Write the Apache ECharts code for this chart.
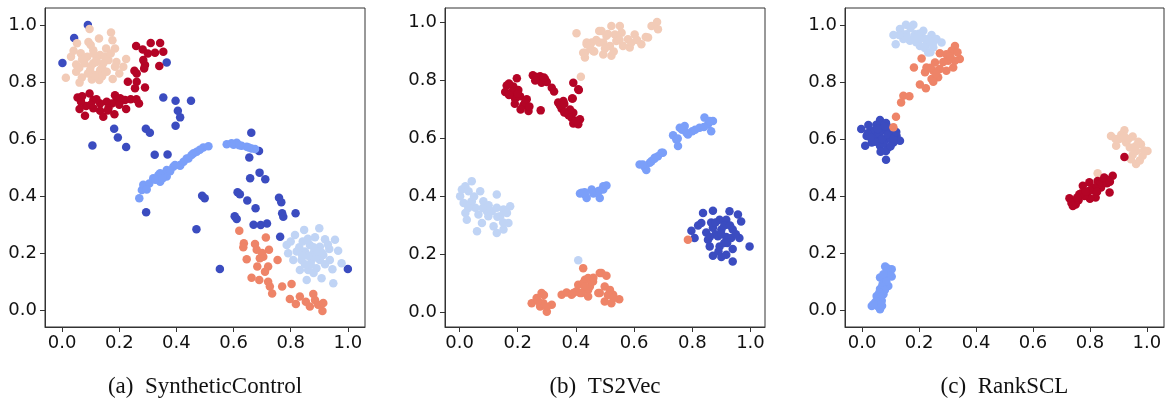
<!DOCTYPE html>
<html>
<head>
<meta charset="utf-8">
<script src="https://cdn.jsdelivr.net/npm/echarts@6/dist/echarts.min.js"></script>
<style>
html, body { margin: 0; padding: 0; background: #fff; }
#main { width: 1169px; height: 406px; }
</style>
</head>
<body>
<div id="main"></div>
<script>
// tick labels shared by all panels
var tickValues = [0, 0.2, 0.4, 0.6, 0.8, 1.0];
var captions = ['(a)  SyntheticControl', '(b)  TS2Vec', '(c)  RankSCL'];

// class colours (coolwarm)
var classColors = ['#3b4cc0', '#7b9ff9', '#c0d4f5', '#f2cbb7', '#ee8468', '#b40426'];

// ---- (a) SyntheticControl ----
var a0 = [[0.09,1.0],[0.042,0.955],[0.001,0.867],[0.366,0.869],[0.354,0.746],[0.397,0.734],[0.451,0.734],[0.405,0.699],
  [0.413,0.676],[0.397,0.647],[0.182,0.636],[0.195,0.605],[0.224,0.572],[0.106,0.577],[0.293,0.636],[0.307,0.622],
  [0.324,0.545],[0.369,0.546],[0.294,0.343],[0.470,0.283],[0.662,0.622],[0.689,0.558],[0.655,0.535],[0.691,0.482],
  [0.711,0.459],[0.658,0.462],[0.490,0.401],[0.499,0.392],[0.614,0.413],[0.622,0.406],[0.648,0.384],[0.759,0.394],
  [0.767,0.378],[0.677,0.357],[0.604,0.329],[0.611,0.319],[0.770,0.339],[0.774,0.327],[0.817,0.339],[0.670,0.299],
  [0.695,0.298],[0.717,0.303],[0.763,0.257],[0.552,0.144],[1.0,0.144]];
var a1 = [[0.270,0.392],[0.279,0.421],[0.284,0.439],[0.305,0.444],[0.296,0.423],[0.319,0.462],[0.337,0.474],[0.343,0.450],
  [0.360,0.480],[0.366,0.468],[0.389,0.503],[0.413,0.509],[0.436,0.532],[0.453,0.544],[0.471,0.555],[0.343,0.480],
  [0.366,0.491],[0.395,0.509],[0.413,0.506],[0.442,0.532],[0.494,0.570],[0.512,0.575],[0.576,0.582],[0.593,0.585],
  [0.611,0.587],[0.628,0.576],[0.646,0.573],[0.663,0.567],[0.675,0.565],[0.326,0.457],[0.352,0.462],[0.378,0.487],
  [0.425,0.520],[0.460,0.550],[0.482,0.562],[0.600,0.580],[0.620,0.578],[0.653,0.570]];
var a2 = [[0.847,0.281],[0.900,0.287],[0.815,0.263],[0.885,0.255],[0.920,0.248],[0.955,0.246],[0.786,0.228],[0.842,0.240],
  [0.867,0.228],[0.902,0.222],[0.935,0.214],[0.966,0.208],[0.791,0.199],[0.821,0.205],[0.850,0.205],[0.879,0.199],
  [0.914,0.193],[0.809,0.175],[0.838,0.175],[0.873,0.175],[0.902,0.175],[0.937,0.175],[0.978,0.164],[0.832,0.140],
  [0.861,0.140],[0.890,0.146],[0.946,0.143],[0.856,0.105],[0.908,0.111],[0.949,0.094],[0.860,0.190],[0.890,0.185],
  [0.870,0.160],[0.920,0.160],[0.850,0.160],[0.830,0.220],[0.895,0.205],[0.880,0.220],[0.860,0.250],[0.910,0.200],
  [0.840,0.190],[0.930,0.230],[0.880,0.130],[0.800,0.240]];
var a3 = [[0.096,0.986],[0.171,0.974],[0.052,0.936],[0.092,0.941],[0.129,0.953],[0.176,0.947],[0.185,0.918],[0.154,0.918],
  [0.109,0.912],[0.065,0.901],[0.031,0.889],[0.088,0.889],[0.133,0.895],[0.162,0.877],[0.224,0.881],[0.049,0.862],
  [0.078,0.866],[0.109,0.866],[0.144,0.866],[0.185,0.854],[0.214,0.854],[0.049,0.836],[0.098,0.842],[0.133,0.842],
  [0.156,0.836],[0.013,0.815],[0.069,0.816],[0.104,0.809],[0.130,0.807],[0.177,0.811],[0.061,0.798],[0.120,0.880],
  [0.100,0.855],[0.140,0.850],[0.115,0.825],[0.070,0.880],[0.110,0.900],[0.150,0.890],[0.190,0.870],[0.120,0.870],
  [0.090,0.830],[0.140,0.820],[0.060,0.850],[0.170,0.900],[0.200,0.830],[0.100,0.930],[0.040,0.910]];
var a4 = [[0.620,0.278],[0.713,0.254],[0.636,0.234],[0.634,0.220],[0.675,0.231],[0.681,0.211],[0.724,0.211],[0.704,0.187],
  [0.646,0.178],[0.692,0.181],[0.754,0.175],[0.683,0.152],[0.721,0.152],[0.710,0.134],[0.663,0.113],[0.690,0.105],
  [0.721,0.099],[0.727,0.082],[0.735,0.058],[0.770,0.082],[0.803,0.091],[0.797,0.038],[0.818,0.021],[0.832,0.047],
  [0.853,0.029],[0.879,0.056],[0.885,0.035],[0.867,0.012],[0.896,0.018],[0.911,-0.004],[0.914,0.024],[0.700,0.200]];
var a5 = [[0.259,0.927],[0.282,0.914],[0.310,0.937],[0.343,0.937],[0.354,0.906],[0.325,0.903],[0.284,0.877],[0.290,0.860],
  [0.340,0.856],[0.287,0.848],[0.253,0.840],[0.261,0.830],[0.230,0.801],[0.261,0.801],[0.255,0.778],[0.290,0.781],
  [0.269,0.725],[0.220,0.737],[0.224,0.705],[0.185,0.754],[0.191,0.737],[0.174,0.725],[0.156,0.731],[0.133,0.725],
  [0.133,0.699],[0.144,0.678],[0.183,0.687],[0.096,0.760],[0.109,0.737],[0.084,0.716],[0.109,0.708],[0.054,0.746],
  [0.066,0.731],[0.061,0.705],[0.080,0.682],[0.203,0.743],[0.162,0.708],[0.300,0.900],[0.070,0.750],[0.120,0.740],
  [0.160,0.700],[0.200,0.720],[0.240,0.740],[0.100,0.720],[0.260,0.740]];

// ---- (b) TS2Vec ----
var b0 = [[0.837,0.343],[0.871,0.351],[0.928,0.349],[0.957,0.338],[0.831,0.309],[0.894,0.320],[0.917,0.320],[0.968,0.314],
  [0.797,0.282],[0.848,0.276],[0.871,0.292],[0.900,0.286],[0.939,0.286],[0.808,0.257],[0.854,0.251],[0.888,0.263],
  [0.917,0.260],[0.934,0.257],[0.962,0.257],[0.860,0.228],[0.894,0.228],[0.939,0.219],[0.997,0.228],[0.871,0.196],
  [0.900,0.191],[0.917,0.199],[0.939,0.176],[0.880,0.270],[0.910,0.300],[0.920,0.240],[0.865,0.310],[0.880,0.310],
  [0.900,0.270],[0.860,0.260],[0.930,0.300],[0.950,0.270],[0.890,0.210],[0.910,0.240],[0.820,0.300]];
var b1 = [[0.757,0.637],[0.734,0.611],[0.751,0.574],[0.774,0.643],[0.785,0.614],[0.800,0.625],[0.825,0.637],[0.842,0.672],
  [0.854,0.649],[0.871,0.660],[0.865,0.625],[0.745,0.597],[0.694,0.551],[0.671,0.534],[0.654,0.516],[0.637,0.501],
  [0.619,0.510],[0.642,0.491],[0.660,0.522],[0.682,0.539],[0.699,0.551],[0.494,0.435],[0.477,0.418],[0.454,0.424],
  [0.431,0.407],[0.414,0.410],[0.420,0.413],[0.437,0.395],[0.482,0.395],[0.494,0.424],[0.505,0.438],[0.765,0.630],
  [0.780,0.620],[0.810,0.630],[0.840,0.640],[0.860,0.660],[0.750,0.600],[0.630,0.510],[0.670,0.530],[0.460,0.410],
  [0.430,0.415],[0.480,0.420]];
var b2 = [[0.002,0.401],[0.008,0.424],[0.020,0.435],[0.042,0.453],[0.031,0.418],[0.014,0.378],[0.042,0.384],[0.071,0.418],
  [0.128,0.407],[0.020,0.343],[0.025,0.320],[0.054,0.361],[0.082,0.384],[0.065,0.338],[0.094,0.349],[0.077,0.309],
  [0.060,0.280],[0.111,0.349],[0.117,0.297],[0.140,0.332],[0.128,0.361],[0.151,0.355],[0.174,0.366],[0.163,0.343],
  [0.168,0.309],[0.151,0.286],[0.128,0.274],[0.099,0.332],[0.040,0.380],[0.408,0.180],[0.050,0.400],[0.100,0.370],
  [0.130,0.330],[0.080,0.360],[0.030,0.360],[0.150,0.310]];
var b3 = [[0.402,0.963],[0.437,0.925],[0.454,0.931],[0.425,0.896],[0.463,0.900],[0.431,0.879],[0.480,0.971],[0.417,0.813],
  [0.437,0.931],[0.431,0.896],[0.459,0.902],[0.448,0.925],[0.488,0.971],[0.494,0.931],[0.494,0.890],[0.522,0.885],
  [0.517,0.919],[0.522,0.988],[0.551,0.988],[0.534,0.959],[0.557,0.965],[0.539,0.936],[0.562,0.919],[0.585,0.914],
  [0.579,0.942],[0.602,0.959],[0.625,0.925],[0.648,0.948],[0.660,0.988],[0.679,1.002],[0.682,0.977],[0.480,0.931],
  [0.505,0.954],[0.470,0.940],[0.510,0.960],[0.550,0.940],[0.590,0.930],[0.610,0.940],[0.640,0.950],[0.500,0.910],
  [0.530,0.900],[0.450,0.910]];
var b4 = [[0.248,0.032],[0.265,0.050],[0.282,0.067],[0.277,0.021],[0.300,0.003],[0.317,0.027],[0.288,0.032],[0.351,0.061],
  [0.368,0.069],[0.385,0.061],[0.402,0.073],[0.408,0.096],[0.425,0.153],[0.431,0.113],[0.442,0.078],[0.448,0.090],
  [0.459,0.107],[0.420,0.067],[0.482,0.136],[0.477,0.067],[0.442,0.119],[0.454,0.107],[0.425,0.102],[0.391,0.067],
  [0.414,0.067],[0.442,0.055],[0.488,0.136],[0.505,0.127],[0.499,0.090],[0.482,0.067],[0.517,0.078],[0.528,0.061],
  [0.499,0.038],[0.522,0.032],[0.549,0.046],[0.785,0.251],[0.270,0.040],[0.290,0.060],[0.300,0.020],[0.430,0.090],
  [0.460,0.120],[0.510,0.060],[0.530,0.050]];
var b5 = [[0.197,0.808],[0.162,0.783],[0.157,0.760],[0.185,0.779],[0.202,0.767],[0.191,0.737],[0.208,0.746],[0.231,0.735],
  [0.219,0.714],[0.237,0.695],[0.279,0.697],[0.252,0.818],[0.277,0.815],[0.294,0.804],[0.282,0.792],[0.317,0.775],
  [0.325,0.762],[0.339,0.724],[0.357,0.729],[0.391,0.792],[0.410,0.767],[0.387,0.738],[0.351,0.703],[0.368,0.689],
  [0.385,0.672],[0.414,0.666],[0.391,0.652],[0.408,0.649],[0.408,0.770],[0.389,0.738],[0.391,0.689],[0.180,0.760],
  [0.170,0.790],[0.200,0.755],[0.225,0.725],[0.265,0.812],[0.300,0.795],[0.345,0.715],[0.375,0.680],[0.400,0.660],
  [0.170,0.750],[0.190,0.720],[0.210,0.700],[0.240,0.710],[0.260,0.800],[0.290,0.810],[0.360,0.720],[0.380,0.700],
  [0.360,0.690]];

// ---- (c) RankSCL ----
var c0 = [[-0.003,0.635],[0.022,0.649],[0.063,0.667],[0.084,0.656],[0.011,0.576],[0.016,0.611],[0.046,0.629],[0.081,0.629],
  [0.104,0.623],[0.121,0.611],[0.133,0.594],[0.057,0.600],[0.086,0.600],[0.110,0.588],[0.063,0.576],[0.092,0.570],
  [0.084,0.558],[0.084,0.527],[0.034,0.588],[0.070,0.640],[0.040,0.610],[0.100,0.600],[0.060,0.620],[0.075,0.585],
  [0.095,0.640],[0.030,0.630],[0.050,0.650],[0.020,0.620],[0.070,0.600],[0.090,0.615],[0.110,0.600],[0.045,0.590],
  [0.065,0.555],[0.100,0.575],[0.120,0.625],[0.030,0.605],[0.055,0.635],[0.080,0.645]];
var c1 = [[0.081,0.152],[0.104,0.143],[0.063,0.114],[0.104,0.117],[0.081,0.102],[0.092,0.084],[0.063,0.073],[0.075,0.055],
  [0.051,0.049],[0.069,0.032],[0.046,0.026],[0.034,0.014],[0.063,0.002],[0.054,0.014],[0.085,0.130],[0.072,0.090],
  [0.090,0.145],[0.095,0.120],[0.075,0.125],[0.085,0.100],[0.070,0.080],[0.080,0.070],[0.060,0.060],[0.065,0.045],
  [0.050,0.030],[0.058,0.020],[0.040,0.020],[0.070,0.015]];
var c2 = [[0.154,1.001],[0.180,1.001],[0.133,0.986],[0.110,0.965],[0.118,0.933],[0.156,0.968],[0.186,0.968],[0.215,0.980],
  [0.244,0.965],[0.261,0.951],[0.279,0.939],[0.168,0.945],[0.203,0.951],[0.226,0.933],[0.250,0.922],[0.232,0.904],
  [0.203,0.927],[0.145,0.951],[0.190,0.940],[0.215,0.955],[0.170,0.990],[0.140,0.970],[0.200,0.970],[0.230,0.950],
  [0.250,0.940],[0.180,0.955],[0.220,0.920],[0.240,0.905],[0.130,0.965]];
var c3 = [[0.874,0.611],[0.921,0.631],[0.950,0.609],[0.892,0.576],[0.927,0.588],[0.979,0.582],[1.002,0.558],[0.962,0.558],
  [0.985,0.541],[0.962,0.512],[0.944,0.529],[0.903,0.600],[0.827,0.480],[0.940,0.570],[0.970,0.590],[0.910,0.615],
  [0.935,0.600],[0.960,0.575],[0.990,0.560],[0.975,0.525],[0.950,0.545],[0.890,0.600],[0.920,0.610]];
var c4 = [[0.326,0.927],[0.314,0.910],[0.296,0.898],[0.273,0.901],[0.343,0.881],[0.326,0.875],[0.302,0.875],[0.320,0.851],
  [0.296,0.840],[0.273,0.846],[0.256,0.869],[0.250,0.840],[0.226,0.851],[0.209,0.883],[0.182,0.851],[0.221,0.834],
  [0.244,0.811],[0.267,0.817],[0.250,0.801],[0.203,0.791],[0.224,0.778],[0.145,0.752],[0.166,0.750],[0.137,0.728],
  [0.119,0.678],[0.110,0.641],[0.285,0.870],[0.310,0.890],[0.335,0.905],[0.260,0.830],[0.240,0.850]];
var c5 = [[0.880,0.471],[0.857,0.459],[0.827,0.453],[0.798,0.448],[0.775,0.436],[0.839,0.430],[0.869,0.412],[0.763,0.406],
  [0.728,0.392],[0.921,0.537],[0.745,0.380],[0.760,0.385],[0.790,0.410],[0.810,0.420],[0.820,0.395],[0.750,0.370],
  [0.800,0.390],[0.840,0.450],[0.780,0.400],[0.735,0.375],[0.860,0.445],[0.830,0.440],[0.815,0.430],[0.800,0.420],
  [0.770,0.410],[0.755,0.395],[0.785,0.415],[0.850,0.465],[0.870,0.450],[0.825,0.415],[0.740,0.365]];

var panels = [
  { sets: [a0, a1, a2, a3, a4, a5], left: 45, width: 320, min: -0.06, max: 1.06 },
  { sets: [b0, b1, b2, b3, b4, b5], left: 445, width: 320, min: -0.05, max: 1.05 },
  { sets: [c0, c1, c2, c3, c4, c5], left: 845, width: 319, min: -0.06, max: 1.06 }
];

var chartDom = document.getElementById('main');
var myChart = echarts.init(chartDom);

var grids = [], xAxes = [], yAxes = [], series = [], graphics = [];
var labelFont = { fontFamily: 'DejaVu Sans', fontSize: 18, color: '#111' };

panels.forEach(function (p, i) {
  grids.push({ left: p.left, top: 8, width: p.width, height: 319,
    show: true, borderColor: '#333', borderWidth: 1, backgroundColor: '#fff' });
  xAxes.push({
    type: 'value', gridIndex: i, min: p.min, max: p.max,
    axisLine: { show: true, onZero: false, lineStyle: { color: '#333' } },
    axisTick: { show: true, customValues: tickValues, length: 5, lineStyle: { color: '#333' } },
    axisLabel: Object.assign({ customValues: tickValues, margin: 7,
      formatter: function (v) { return v.toFixed(1); } }, labelFont),
    splitLine: { show: false }
  });
  yAxes.push({
    type: 'value', gridIndex: i, min: p.min, max: p.max,
    axisLine: { show: true, onZero: false, lineStyle: { color: '#333' } },
    axisTick: { show: true, customValues: tickValues, length: 5, lineStyle: { color: '#333' } },
    axisLabel: Object.assign({ customValues: tickValues, margin: 8,
      formatter: function (v) { return v.toFixed(1); } }, labelFont),
    splitLine: { show: false }
  });
  p.sets.forEach(function (pts, k) {
    series.push({
      type: 'scatter', xAxisIndex: i, yAxisIndex: i,
      data: pts, symbolSize: 8.5,
      itemStyle: { color: classColors[k], opacity: 1 },
      silent: true
    });
  });
  graphics.push({
    type: 'text', x: p.left + p.width / 2, y: 398,
    style: { text: captions[i], fontFamily: 'Liberation Serif', fontSize: 23,
      fill: '#111', textAlign: 'center', textVerticalAlign: 'bottom' }
  });
});

var option = {
  animation: false,
  grid: grids,
  xAxis: xAxes,
  yAxis: yAxes,
  series: series,
  graphic: graphics
};

option && myChart.setOption(option);
</script>
</body>
</html>
